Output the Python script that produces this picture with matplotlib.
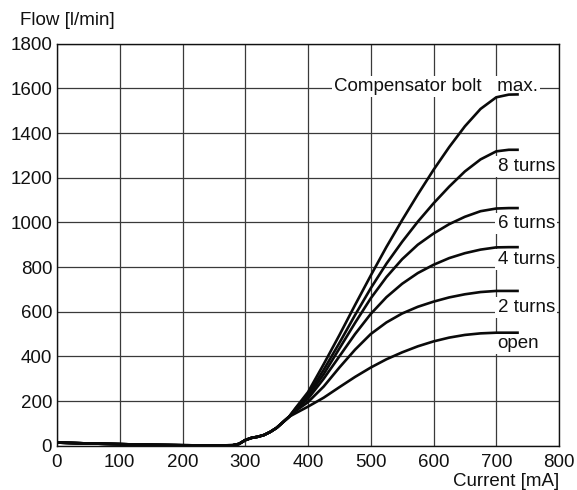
import matplotlib
matplotlib.use("Agg")
import matplotlib.pyplot as plt

plt.rcParams["font.family"] = ["Liberation Sans", "DejaVu Sans"]

# ── Data ─────────────────────────────────────────────────────────────────
current_ma = [0, 50, 100, 150, 200, 250, 280, 290, 300, 310, 320, 330, 340,
              350, 360, 370, 380, 400, 425, 450, 475, 500, 525, 550, 575,
              600, 625, 650, 675, 700, 720, 736]

base = [14, 10, 7, 4, 2, 1, 2, 8, 25, 35, 40, 48, 62, 80, 105, 130]

flow_max = base + [168, 240, 365, 495, 630, 762, 890, 1010, 1125,
                   1235, 1337, 1430, 1508, 1560, 1572, 1573]
flow_8 = base + [165, 228, 340, 460, 585, 705, 815, 913, 1003,
                 1085, 1160, 1228, 1282, 1318, 1325, 1325]
flow_6 = base + [162, 220, 320, 435, 550, 660, 755, 835, 900,
                 950, 992, 1025, 1050, 1062, 1064, 1064]
flow_4 = base + [160, 210, 300, 400, 500, 590, 665, 725, 773,
                 810, 840, 862, 878, 888, 889, 889]
flow_2 = base + [155, 195, 265, 350, 430, 500, 552, 592, 622,
                 645, 664, 678, 688, 693, 693, 693]
flow_open = base + [145, 175, 215, 262, 308, 350, 387, 418, 445,
                    467, 484, 496, 503, 506, 506, 506]

curves = [flow_max, flow_8, flow_6, flow_4, flow_2, flow_open]

# curve labels and their baselines (l/min)
title_label = "Compensator bolt   max."
labels = ["8 turns", "6 turns", "4 turns", "2 turns", "open"]
label_y = [1230, 975, 813, 600, 436]

x_ticks = [0, 100, 200, 300, 400, 500, 600, 700, 800]
y_ticks = [0, 200, 400, 600, 800, 1000, 1200, 1400, 1600, 1800]

# ── Figure ───────────────────────────────────────────────────────────────
W, H = 577, 490
fig = plt.figure(figsize=(W / 100, H / 100), dpi=100)
ax = fig.add_axes([57 / W, (H - 445.7) / H, 502 / W, 402 / H])

fs = 13.5
ax.set_xlim(0, 800)
ax.set_ylim(0, 1800)
ax.set_xticks(x_ticks)
ax.set_yticks(y_ticks)
ax.tick_params(length=0, labelsize=fs, colors="#111111")
ax.tick_params(axis="x", pad=6.0)
ax.tick_params(axis="y", pad=3.5)
ax.grid(True, color="#3a3a3a", linewidth=0.9)
ax.set_axisbelow(True)
for sp in ax.spines.values():
    sp.set_color("#111111")
    sp.set_linewidth(1.0)

for ys in curves:
    ax.plot(current_ma, ys, color="#0a0a0a", linewidth=1.9,
            solid_capstyle="butt", zorder=3)

# white boxes hide the grid, curves stay on top
box = dict(facecolor="white", edgecolor="none", pad=1.5)
ax.text(441, 1588, title_label, ha="left", va="baseline",
        fontsize=fs, color="#111111", bbox=box, zorder=2.5)
for txt, yb in zip(labels, label_y):
    ax.text(702, yb, txt, ha="left", va="baseline", fontsize=fs,
            color="#111111", bbox=box, zorder=2.5)

fig.text(20.5 / W, (H - 25) / H, "Flow [l/min]", ha="left", va="baseline",
         fontsize=fs, color="#111111")
fig.text(559 / W, (H - 486) / H, "Current [mA]", ha="right", va="baseline",
         fontsize=fs, color="#111111")

fig.savefig("out.png", dpi=100)
